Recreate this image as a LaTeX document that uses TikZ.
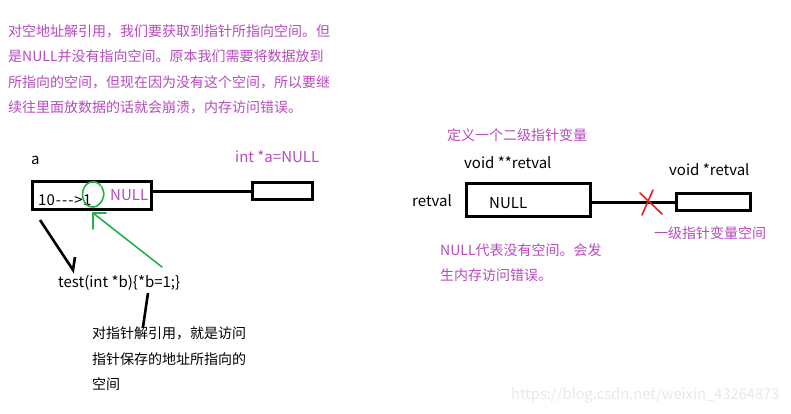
\documentclass[tikz,border=0pt]{standalone}
\usepackage{fontspec}
\setmainfont{Noto Sans CJK SC}
\usetikzlibrary{positioning, calc}

\definecolor{notepurple}{RGB}{182,74,190}
\definecolor{pengreen}{RGB}{34,177,76}
\definecolor{penred}{RGB}{237,28,36}

\begin{document}
\begin{tikzpicture}[
    x=1pt, y=-1pt,
    font=\fontsize{14}{25.5}\selectfont,
    latin/.style={font=\fontsize{15}{15}\selectfont},
    membox/.style={rectangle, draw, line width=3pt, inner sep=0pt},
    note/.style={text=notepurple, anchor=west, inner sep=0pt, align=left},
    plain/.style={anchor=west, inner sep=0pt, align=left},
    link/.style={line width=3pt},
    pen/.style={line width=1.6pt, line cap=round, line join=round},
    stroke/.style={line width=2.6pt, line join=miter}
]
\useasboundingbox (0,0) rectangle (791,413);

% Top explanation
\node (intro) [note, anchor=north west] at (8,24) {对空地址解引用，我们要获取到指针所指向空间。但\\是NULL并没有指向空间。原本我们需要将数据放到\\所指向的空间，但现在因为没有这个空间，所以要继\\续往里面放数据的话就会崩溃，内存访问错误。};

% Left: pointer a
\node (aname) [plain, latin] at (31,160) {a};
\node (adecl) [note, latin] at (235,157) {int *a=NULL};
\node (abox) [membox, minimum width=119, minimum height=28] at (92,195.5) {};
\node (aptr) [membox, minimum width=60, minimum height=17] at (282.5,191) {};
\node (ten) [plain, latin] at (38,200) {10\kern1pt-\kern1pt-\kern1pt-\kern1pt>};
\node (one) [latin, inner sep=0pt, right=0pt of ten] {1};
\node (anull) [note, latin] at (110,195) {NULL};
\draw [link] (aptr.west -| abox.east) -- (aptr.west);

% green mark on the value
\coordinate (ring) at (92.5,194.5);
\draw [pen, pengreen] ($(ring)+(8,-9)$) .. controls ($(ring)+(3,-16)$) and ($(ring)+(-10,-13)$) .. ($(ring)+(-10,0)$)
    .. controls ($(ring)+(-10,13)$) and ($(ring)+(4,18)$) .. ($(ring)+(10,5)$) .. controls ($(ring)+(12,-1)$) .. ($(ring)+(9,-8)$);
\coordinate (gtip) at (93,213);
\coordinate (gtail) at (162,267);
\draw [pen, pengreen] (gtail) -- (gtip);
\draw [pen, pengreen] ($(gtip)+(0,16)$) -- (gtip) -- ($(gtip)+(13,0)$);

% function call
\node (call) [plain, latin] at (58,283) {test(int *b)\{*b=1;\}};
\coordinate (ctop) at (40,220);
\coordinate (ctip) at (73,270);
\draw [stroke] (ctop) -- (ctip) -- ($(ctip)+(2,-13)$);
\node (deref) [plain, anchor=north west] at (92,327) {对指针解引用，就是访问\\指针保存的地址所指向的\\空间};
\draw [stroke] (148,293) -- (deref.north -| 143,0);

% Right: second-level pointer
\node (rtitle) [note] at (447,135) {定义一个二级指针变量};
\node (rdecl) [plain, latin] at (464,163) {void **retval};
\node (pdecl) [plain, latin] at (669,170) {void *retval};
\node (rname) [plain, latin] at (412,201) {retval};
\node (rbox) [membox, minimum width=124, minimum height=33] at (528.5,200) {};
\node (rnull) [plain, latin] at (489,203) {NULL};
\node (rptr) [membox, minimum width=74, minimum height=17] at (713.5,202) {};
\draw [link] (rptr.west -| rbox.east) -- (rptr.west);

% broken link
\coordinate (cut) at (651,203);
\draw [pen, penred] ($(cut)+(-11,-10)$) -- ($(cut)+(11,11)$);
\draw [pen, penred] ($(cut)+(2,-13)$) -- ($(cut)+(-9,12)$);

\node (pspace) [note] at (654,233) {一级指针变量空间};
\node (rwarn) [note, anchor=north west] at (440,243) {NULL代表没有空间。会发\\生内存访问错误。};

% watermark
\node (mark) [plain, text=black!9, font=\fontsize{14.7}{15}\selectfont] at (511,395) {https://blog.csdn.net/weixin\_43264873};
\end{tikzpicture}
\end{document}
